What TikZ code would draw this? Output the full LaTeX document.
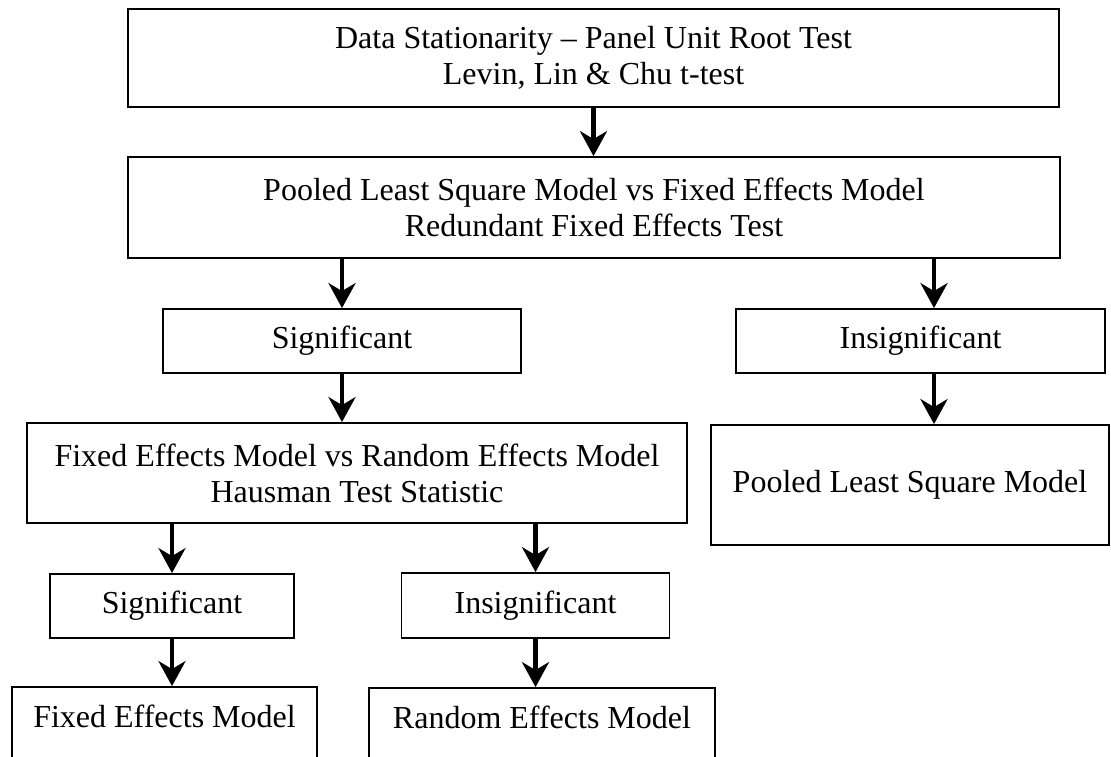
\documentclass[tikz,border=0pt]{standalone}
\usepackage{fontspec}
\setmainfont{Liberation Serif}
\usetikzlibrary{arrows.meta}
\begin{document}
\begin{tikzpicture}[x=1pt,y=-1pt,
  box/.style={draw, line width=1.8pt, inner sep=0pt, align=center,
    font=\fontsize{32}{36}\selectfont},
  openbox/.style={box, text height=22pt, text depth=12.8pt},
  arr/.style={line width=4.5pt, -{Stealth[length=25pt,width=27pt,inset=8pt]}}]
\useasboundingbox (0,0) rectangle (1111,756);
\clip (0,0) rectangle (1111,756);

% boxes
\node[box, minimum width=931pt, minimum height=98pt] (b1) at (593.5,58)
  {Data Stationarity – Panel Unit Root Test\\Levin, Lin \& Chu t-test};
\node[box, minimum width=932pt, minimum height=101pt] (b2) at (594,207.5)
  {Pooled Least Square Model vs Fixed Effects Model\\Redundant Fixed Effects Test};
\node[box, minimum width=358pt, minimum height=64pt] (s1) at (342,341) {Significant};
\node[box, minimum width=369pt, minimum height=64pt] (i1) at (920.5,341) {Insignificant};
\node[box, minimum width=660pt, minimum height=100pt] (fr) at (357,473)
  {Fixed Effects Model vs Random Effects Model\\Hausman Test Statistic};
\node[box, minimum width=398pt, minimum height=120pt] (pls) at (910,485) {Pooled Least Square Model};
\node[box, minimum width=244pt, minimum height=64pt] (s2) at (172,606) {Significant};
\node[box, minimum width=268pt, minimum height=65pt] (i2) at (535.5,605.5) {Insignificant};
% the last row runs on past the lower edge of the sheet
\node[openbox, minimum width=305pt, minimum height=72pt] (fem) at (164.5,723) {Fixed Effects Model};
\node[openbox, minimum width=346pt, minimum height=72pt] (rem) at (542,724) {Random Effects Model};

% connectors
\coordinate (rx) at (934,0);
\draw[arr] (b1.south) -- (b1.south |- b2.north);
\draw[arr] (s1.north |- b2.south) -- (s1.north);
\draw[arr] (s1.south) -- (s1.south |- fr.north);
\draw[arr] (b2.south -| rx) -- (i1.north -| rx);
\draw[arr] (i1.south -| rx) -- (pls.north -| rx);
\draw[arr] (s2.north |- fr.south) -- (s2.north);
\draw[arr] (s2.south) -- (s2.south |- fem.north);
\draw[arr] (i2.north |- fr.south) -- (i2.north);
\draw[arr] (i2.south) -- (i2.south |- rem.north);
\end{tikzpicture}
\end{document}
